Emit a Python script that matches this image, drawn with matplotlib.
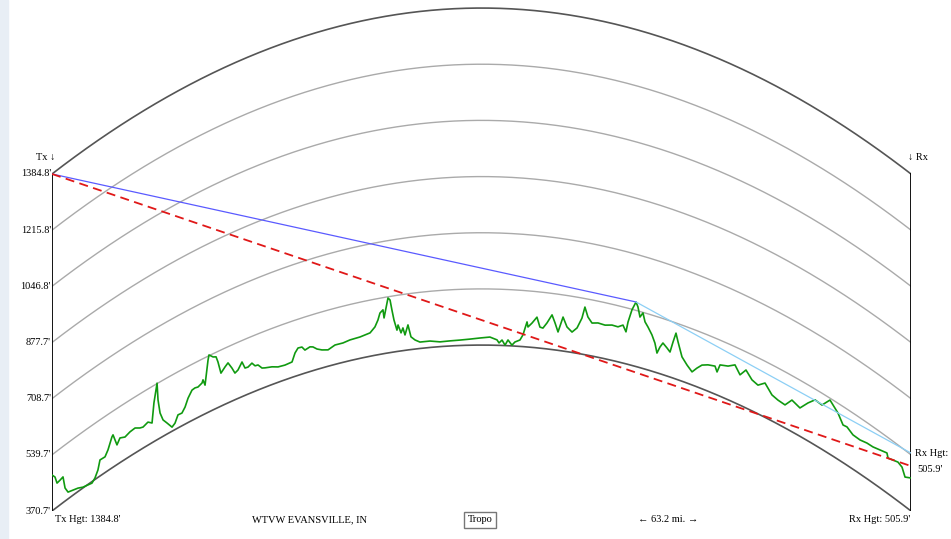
import numpy as np
import matplotlib.pyplot as plt
from matplotlib.patches import Rectangle

plt.rcParams['font.family'] = ['Liberation Serif', 'DejaVu Serif']

# path length (mi), earth bulge for k = 4/3
path_mi = 63.2
tx_hgt = 1384.8
rx_hgt = 505.9
levels = [370.7, 539.7, 708.7, 877.7, 1046.8, 1215.8, 1384.8]

# terrain profile: distance (mi) and elevation (ft)
dist = [0, 0.22, 0.37, 0.59, 0.81, 0.96, 1.18, 1.55, 1.91, 2.28, 2.65, 2.94, 3.16, 3.38, 3.53,
        3.90, 4.12, 4.41, 4.49, 4.78, 5.00, 5.37, 5.74, 6.11, 6.47, 6.70, 7.06, 7.36, 7.50, 7.65,
        7.73, 7.80, 7.95, 8.17, 8.46, 8.83, 9.05, 9.27, 9.56, 9.79, 10.01, 10.30, 10.52, 10.74,
        11.04, 11.11, 11.26, 11.48, 11.55, 11.85, 12.07, 12.21, 12.43, 12.73, 12.95, 13.24, 13.46,
        13.68, 13.98, 14.20, 14.42, 14.71, 14.94, 15.16, 15.45, 15.67, 16.19, 16.63, 17.14, 17.66,
        17.88, 18.10, 18.39, 18.61, 18.98, 19.20, 19.50, 19.86, 20.31, 20.82, 21.41, 21.92, 22.66,
        23.40, 23.76, 23.98, 24.13, 24.35, 24.43, 24.65, 24.72, 24.87, 25.01, 25.16, 25.38, 25.46,
        25.68, 25.82, 25.97, 26.19, 26.41, 26.71, 27.07, 27.81, 28.55, 29.28, 30.02, 30.75, 31.49,
        32.22, 32.74, 32.89, 33.11, 33.33, 33.55, 33.84, 34.06, 34.43, 34.65, 34.95, 35.02, 35.32,
        35.68, 35.90, 36.12, 36.42, 36.79, 37.01, 37.23, 37.60, 37.89, 38.26, 38.63, 38.99, 39.21,
        39.43, 39.73, 40.17, 40.69, 41.20, 41.64, 42.01, 42.23, 42.38, 42.67, 42.97, 43.11, 43.26,
        43.48, 43.63, 43.85, 44.14, 44.36, 44.51, 44.73, 44.95, 45.25, 45.47, 45.69, 45.91, 46.06,
        46.35, 46.72, 47.09, 47.45, 47.82, 48.26, 48.78, 48.93, 49.15, 49.74, 50.25, 50.62, 51.06,
        51.50, 51.94, 52.46, 52.97, 53.41, 53.93, 54.44, 55.03, 55.62, 56.14, 56.65, 57.24, 57.83,
        58.20, 58.49, 58.93, 59.45, 59.96, 60.40, 60.92, 61.43, 61.51, 61.87, 62.24, 62.54, 62.76,
        63.2]
elev = [479, 466, 443, 445, 448, 410, 391, 386, 381, 373, 369, 366, 375, 393, 419,
        418, 433, 464, 468, 430, 445, 438, 444, 446, 437, 434, 440, 430, 487, 522,
        541, 489, 446, 420, 404, 383, 390, 410, 409, 422, 444, 462, 464, 462,
        468, 476, 457, 528, 542, 530, 526, 508, 470, 483, 491, 470, 451,
        456, 475, 453, 452, 459, 447, 446, 432, 429, 424, 417, 415, 417,
        441, 453, 452, 440, 445, 442, 432, 425, 420, 429, 429, 433, 435,
        441, 456, 475, 495, 503, 478, 521, 536, 529, 498, 467, 435, 450,
        425, 439, 417, 446, 409, 398, 390, 390, 385, 386, 387, 389, 392,
        395, 387, 378, 387, 372, 388, 373, 383, 390, 406, 446, 431, 444,
        463, 434, 432, 449, 475, 452, 426, 473, 445, 432, 447, 479, 514,
        486, 470, 474, 472, 477, 476, 485, 467, 498, 538, 565, 552, 523,
        538, 513, 500, 480, 458, 430, 451, 466, 455, 446, 479, 509, 485,
        444, 425, 410, 427, 442, 450, 455, 440, 465, 472, 485, 462, 485,
        464, 457, 474, 449, 443, 440, 466, 456, 485, 507, 504, 534, 510,
        484, 486, 474, 473, 478, 479, 485, 491, 478, 483, 488, 482, 459,
        470]
clear_end = 545.0  # light blue line at Rx end

dist = np.array(dist)
elev = np.array(elev)


def bulge(d):
    return d * (path_mi - d) / 2.0


fig = plt.figure(figsize=(9.51, 5.39), dpi=100)
fig.patches.append(Rectangle((0, 0), 8 / 951, 1, transform=fig.transFigure,
                             color='#e8eef5', zorder=0))
ax = fig.add_axes([52 / 951, 28 / 539, 859 / 951, 511 / 539])
ax.set_xlim(0, path_mi)
ax.set_ylim(370.7, 370.7 + 511 * 3.009)
ax.axis('off')

xx = np.linspace(0, path_mi, 300)
for i, lv in enumerate(levels):
    edge = i == 0 or i == len(levels) - 1
    ax.plot(xx, lv + bulge(xx), color='#555555' if edge else '#aaaaaa',
            lw=1.2 if edge else 1.0, zorder=2)

ax.plot([0, 0], [levels[0], tx_hgt], color='black', lw=1.3, zorder=3)
ax.plot([path_mi, path_mi], [levels[0], tx_hgt], color='black', lw=1.3, zorder=3)

prof = elev + bulge(dist)
ax.plot(dist, prof, color='#109a10', lw=1.2, zorder=4)

# horizon from Tx: terrain point with steepest view angle
k = np.argmax((prof[1:] - tx_hgt) / dist[1:]) + 1
ax.plot([0, dist[k]], [tx_hgt, prof[k]], color='#5a5aff', lw=0.9, zorder=5)
ax.plot([dist[k], path_mi], [prof[k], clear_end], color='#8ccff5', lw=0.9, zorder=5)
ax.plot([0, path_mi], [tx_hgt, rx_hgt], color='#e01818', lw=1.3,
        dashes=(5, 3), zorder=6)

for lv in levels:
    ax.text(-0.08, lv, f"{lv}'", ha='right', va='center', fontsize=7.5, clip_on=False)

fs = 7.5
arrows = ['Liberation Serif', 'DejaVu Sans']
fig.text(55 / 951, 1 - 157 / 539, 'Tx \u2193', ha='right', va='center', fontsize=fs)
fig.text(908 / 951, 1 - 157 / 539, '\u2193 Rx', ha='left', va='center', fontsize=fs)
fig.text(55 / 951, 1 - 520 / 539, f"Tx Hgt: {tx_hgt}'", ha='left', va='center', fontsize=fs)
fig.text(310 / 951, 1 - 520 / 539, 'WTVW EVANSVILLE, IN', ha='center', va='center', fontsize=fs)
fig.text(480 / 951, 1 - 520 / 539, 'Tropo', ha='center', va='center', fontsize=fs,
         bbox=dict(boxstyle='square,pad=0.35', fc='white', ec='#777777', lw=1))
fig.text(668 / 951, 1 - 520 / 539, f'\u2190 {path_mi} mi. \u2192', ha='center', va='center',
         fontsize=fs)
fig.text(910 / 951, 1 - 520 / 539, f"Rx Hgt: {rx_hgt}'", ha='right', va='center', fontsize=fs)
fig.text(915 / 951, 1 - 453 / 539, 'Rx Hgt:', ha='left', va='center', fontsize=fs)
fig.text(917 / 951, 1 - 470 / 539, f"{rx_hgt}'", ha='left', va='center', fontsize=fs)

fig.savefig('out.png', dpi=100)
